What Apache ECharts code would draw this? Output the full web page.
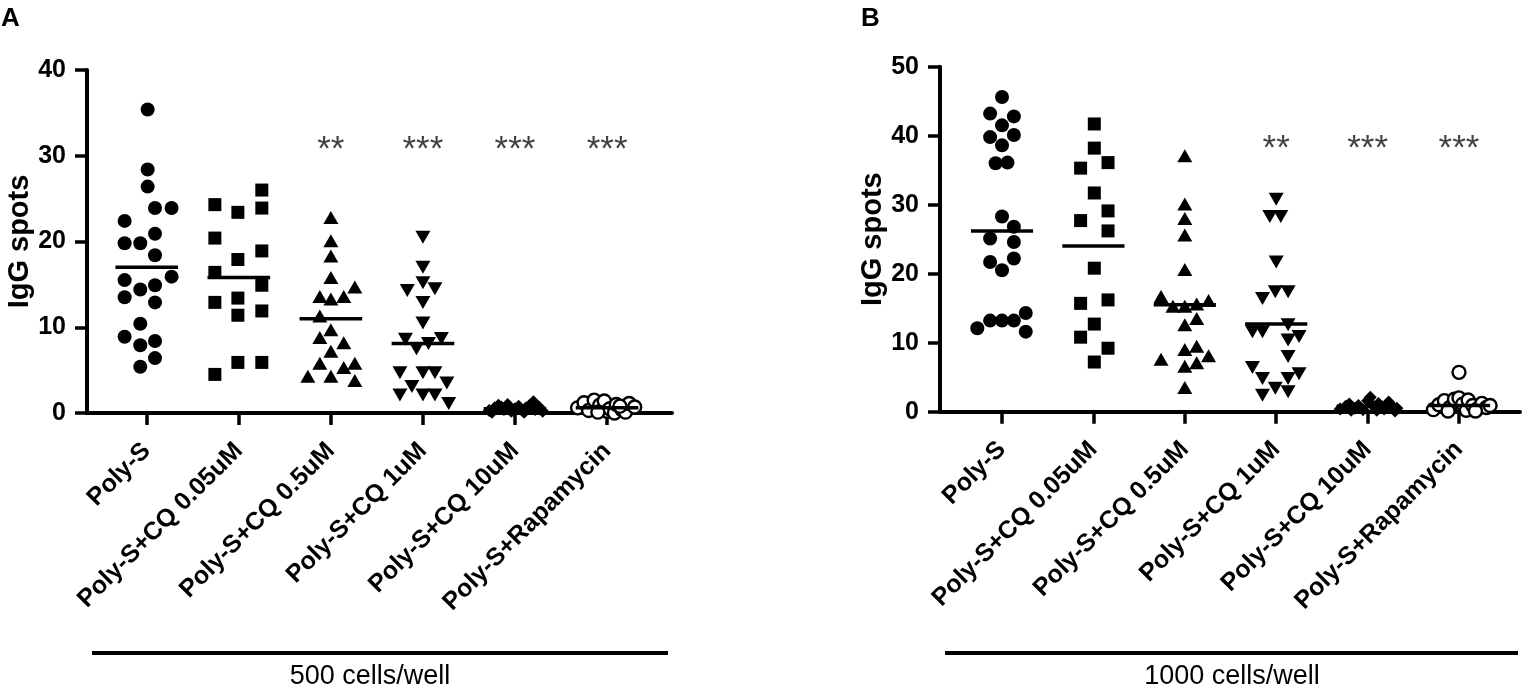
<!DOCTYPE html>
<html>
<head>
<meta charset="utf-8">
<script src="https://cdn.jsdelivr.net/npm/echarts@6/dist/echarts.min.js"></script>
<style>
  html, body { margin: 0; padding: 0; background: #fff; }
  #chart { width: 1535px; height: 694px; }
</style>
</head>
<body>
<div id="chart"></div>
<script>
// group names, same for both panels
var groups = ['Poly-S', 'Poly-S+CQ 0.05uM', 'Poly-S+CQ 0.5uM', 'Poly-S+CQ 1uM', 'Poly-S+CQ 10uM', 'Poly-S+Rapamycin'];

// panel A: 500 cells/well
var a1 = [35.4, 28.4, 26.4, 23.9, 23.9, 22.4, 20.9, 19.8, 19.8, 18.4, 15.9, 15.5, 14.4, 14.9, 13.5, 12.9, 10.4, 8.9, 7.9, 8.4, 6.4, 5.4];
var a2 = [24.3, 26.0, 23.4, 23.9, 20.4, 18.9, 17.9, 16.4, 14.9, 13.4, 12.9, 11.4, 11.9, 5.9, 5.9, 4.5];
var a3 = [22.8, 20.1, 18.3, 15.8, 14.7, 13.6, 13.3, 13.6, 11.3, 9.7, 8.8, 8.2, 7.2, 5.8, 5.3, 5.8, 4.3, 4.3, 3.8];
var a4 = [20.5, 17.0, 15.2, 14.3, 14.5, 12.9, 10.5, 8.6, 8.7, 7.5, 8.1, 4.7, 4.7, 4.7, 3.1, 3.5, 2.1, 2.1, 2.1, 1.1];
var a5 = [0.3, 0.6, 0.9, 0.4, 1.0, 0.2, 0.5, 0.8, 0.3, 0.6, 0.9, 1.3, 0.4, 0.7, 0.2, 0.1, 0.1, 0.7];
var a6 = [0.6, 1.2, 0.3, 1.5, 0.9, 1.4, 0.2, 0.5, 0.0, 1.0, 0.4, 0.1, 1.1, 0.7, 0.1, 0.8];
var meansA = [17.0, 15.8, 11.0, 8.1, 0.5, 0.6];
var starsA = ['', '', '**', '***', '***', '***'];

// panel B: 1000 cells/well
var b1 = [45.6, 43.2, 42.8, 41.5, 39.8, 40.1, 38.6, 36.0, 36.1, 28.3, 26.8, 25.1, 24.6, 22.2, 21.7, 20.5, 12.1, 13.2, 13.2, 13.2, 14.3, 11.6];
var b2 = [41.7, 38.2, 36.1, 35.3, 31.7, 29.1, 27.7, 26.2, 20.8, 15.7, 16.2, 12.7, 10.8, 9.2, 7.2];
var b3 = [37.1, 30.1, 28.0, 25.6, 20.6, 16.7, 16.1, 15.3, 15.3, 15.6, 13.5, 12.6, 9.0, 9.5, 8.1, 7.6, 6.6, 7.1, 3.5];
var b4 = [30.8, 28.3, 28.3, 21.7, 16.4, 17.4, 17.4, 11.6, 11.6, 12.6, 10.4, 10.9, 8.0, 6.4, 4.8, 4.8, 5.5, 2.4, 3.4, 2.9];
var b5 = [0.4, 0.8, 1.1, 0.5, 0.9, 0.3, 1.6, 2.1, 0.7, 1.2, 0.4, 1.4, 0.8, 0.5, 0.2, 0.2, 0.1];
var b6 = [5.7, 0.3, 1.0, 1.6, 0.6, 1.8, 2.0, 1.1, 0.2, 1.7, 0.9, 0.4, 1.2, 0.6, 0.9, 0.1, 0.1];
var meansB = [26.2, 24.0, 15.5, 12.7, 0.8, 0.9];
var starsB = ['', '', '', '**', '***', '***'];

// horizontal scatter of the points inside each column (fraction of a column)
var jitA1 = [0.01, 0.01, 0.01, 0.09, 0.27, -0.24, 0.09, -0.24, -0.07, 0.09, 0.27, -0.24, -0.07, 0.09, -0.24, 0.09, -0.07, -0.24, -0.07, 0.09, 0.09, -0.07];
var jitA2 = [-0.26, 0.25, -0.01, 0.25, -0.26, 0.25, -0.01, -0.26, 0.25, -0.01, -0.26, -0.01, 0.25, -0.01, 0.25, -0.26];
var jitA3 = [0, 0, 0, 0, 0.26, -0.12, 0, 0.14, -0.12, 0, -0.12, 0.14, 0, -0.12, 0.14, 0.26, -0.25, 0, 0.26];
var jitA4 = [0, 0, 0, -0.17, 0.13, 0, 0, -0.19, 0.2, -0.07, 0.06, -0.25, 0, 0.13, -0.12, 0.26, -0.25, 0, 0.13, 0.28];
var jitA5 = [-0.28, -0.22, -0.18, -0.12, -0.08, -0.04, 0, 0.04, 0.08, 0.12, 0.16, 0.2, 0.22, 0.26, 0.3, -0.25, 0.1, -0.15];
var jitA6 = [-0.32, -0.25, -0.2, -0.14, -0.08, -0.03, 0, 0.03, 0.08, 0.1, 0.16, 0.2, 0.24, 0.3, -0.1, 0.14];
var jitB1 = [0, -0.13, 0.13, 0, -0.13, 0.13, 0, -0.07, 0.06, 0, 0.13, -0.13, 0.13, 0.13, -0.13, 0, -0.27, -0.13, 0, 0.13, 0.26, 0.26];
var jitB2 = [0.01, 0.01, 0.16, -0.14, 0.01, 0.16, -0.14, 0.16, 0.01, -0.14, 0.16, 0.01, -0.14, 0.16, 0.01];
var jitB3 = [0, 0, 0, 0, 0, -0.26, 0.26, -0.13, 0, 0.13, 0.13, 0, 0, 0.13, 0.26, -0.26, 0, 0.13, 0];
var jitB4 = [0, -0.07, 0.05, 0, -0.15, -0.01, 0.13, -0.26, -0.15, 0.13, 0.13, 0.25, 0.13, -0.26, -0.15, 0.13, 0.25, -0.15, -0.01, 0.13];
var jitB5 = [-0.3, -0.24, -0.2, -0.14, -0.1, -0.05, 0, 0.03, 0.07, 0.12, 0.18, 0.23, 0.27, 0.32, -0.18, 0.1, 0.3];
var jitB6 = [0, -0.28, -0.22, -0.16, -0.1, -0.05, 0, 0.04, 0.08, 0.1, 0.15, 0.2, 0.25, 0.3, 0.34, -0.12, 0.18];

var FONT = 'Liberation Sans, Arial, sans-serif';

var markers = [
    { symbol: 'circle', size: 14, rotate: 0, open: false },
    { symbol: 'rect', size: 13, rotate: 0, open: false },
    { symbol: 'triangle', size: [15, 13], rotate: 0, open: false },
    { symbol: 'triangle', size: [15, 13], rotate: 180, open: false },
    { symbol: 'diamond', size: 13, rotate: 0, open: false },
    { symbol: 'circle', size: 13, rotate: 0, open: true }
];

var panels = [
    { vals: [a1, a2, a3, a4, a5, a6], jit: [jitA1, jitA2, jitA3, jitA4, jitA5, jitA6], means: meansA, stars: starsA, starY: 31.6, max: 40, nameGap: 45 },
    { vals: [b1, b2, b3, b4, b5, b6], jit: [jitB1, jitB2, jitB3, jitB4, jitB5, jitB6], means: meansB, stars: starsB, starY: 39.2, max: 50, nameGap: 40 }
];

// outer grid = axes frame, inner grid = the six columns
var grids = [
    { left: 87, top: 70, width: 585, height: 343 },
    { left: 100.7, top: 70, width: 552.4, height: 343 },
    { left: 940, top: 66.7, width: 580, height: 345 },
    { left: 956.3, top: 66.7, width: 548.4, height: 345 }
];

var xAxes = [], yAxes = [], series = [];

panels.forEach(function (p, pi) {
    var outer = pi * 2, inner = pi * 2 + 1;
    var xBase = pi * 3;

    // frame x axis: only the line
    xAxes.push({
        gridIndex: outer, type: 'value', min: 0, max: 1,
        axisLine: { show: true, lineStyle: { color: '#000', width: 4 } },
        axisTick: { show: false }, axisLabel: { show: false }, splitLine: { show: false }
    });
    // category axis: ticks and rotated labels
    xAxes.push({
        gridIndex: inner, type: 'category', data: groups, position: 'bottom',
        axisLine: { show: false },
        axisTick: { show: true, alignWithLabel: true, length: 12, lineStyle: { color: '#000', width: 3.5 } },
        axisLabel: { interval: 0, rotate: 45, margin: 34, color: '#000', fontFamily: FONT, fontWeight: 'bold', fontSize: 25 },
        splitLine: { show: false }
    });
    // hidden value axis used to place the points
    xAxes.push({
        gridIndex: inner, type: 'value', min: -0.5, max: 5.5, show: false, position: 'top'
    });

    yAxes.push({
        gridIndex: outer, type: 'value', min: 0, max: p.max, interval: 10,
        name: 'IgG spots', nameLocation: 'middle', nameGap: p.nameGap,
        nameTextStyle: { color: '#000', fontFamily: FONT, fontWeight: 'bold', fontSize: 29 },
        axisLine: { show: true, lineStyle: { color: '#000', width: 4 } },
        axisTick: { show: true, length: 12, lineStyle: { color: '#000', width: 3.5 } },
        axisLabel: { margin: 21, color: '#000', fontFamily: FONT, fontWeight: 'bold', fontSize: 25 },
        splitLine: { show: false }
    });
    yAxes.push({
        gridIndex: inner, type: 'value', min: 0, max: p.max, show: false
    });

    var yInner = pi * 2 + 1;

    p.vals.forEach(function (vals, gi) {
        var m = markers[gi];
        var jit = p.jit[gi];
        series.push({
            type: 'scatter',
            xAxisIndex: xBase + 2, yAxisIndex: yInner,
            symbol: m.symbol, symbolSize: m.size, symbolRotate: m.rotate,
            itemStyle: m.open
                ? { color: '#fff', borderColor: '#000', borderWidth: 2.4, opacity: 1 }
                : { color: '#000', opacity: 1 },
            emphasis: { disabled: true },
            z: 3,
            data: vals.map(function (v, k) { return [gi + jit[k], v]; })
        });
    });

    // mean bars
    series.push({
        type: 'custom',
        xAxisIndex: xBase + 2, yAxisIndex: yInner,
        z: 4,
        renderItem: function (params, api) {
            var i = api.value(0), v = api.value(1);
            var s = api.coord([i - 0.34, v]), e = api.coord([i + 0.34, v]);
            return {
                type: 'line',
                shape: { x1: s[0], y1: s[1], x2: e[0], y2: e[1] },
                style: { stroke: '#000', lineWidth: 3.5 }
            };
        },
        data: p.means.map(function (v, i) { return [i, v]; })
    });

    // significance stars
    var starData = [];
    p.stars.forEach(function (s, i) {
        if (s) starData.push({ name: s, value: [i, p.starY] });
    });
    series.push({
        type: 'scatter',
        xAxisIndex: xBase + 2, yAxisIndex: yInner,
        symbolSize: 1,
        itemStyle: { color: 'rgba(0,0,0,0)' },
        label: {
            show: true, position: 'inside', formatter: '{b}', offset: [0, 8],
            color: '#111', fontFamily: FONT, fontSize: 35
        },
        data: starData
    });
});

var myChart = echarts.init(document.getElementById('chart'));

var option = {
    animation: false,
    backgroundColor: '#fff',
    grid: grids,
    xAxis: xAxes,
    yAxis: yAxes,
    series: series,
    graphic: [
        { type: 'text', left: 1, top: 6, style: { text: 'A', fill: '#000', font: 'bold 26px ' + FONT } },
        { type: 'text', left: 861, top: 6, style: { text: 'B', fill: '#000', font: 'bold 26px ' + FONT } },
        { type: 'line', shape: { x1: 92, y1: 653, x2: 668, y2: 653 }, style: { stroke: '#000', lineWidth: 4 } },
        { type: 'line', shape: { x1: 945, y1: 653, x2: 1518, y2: 653 }, style: { stroke: '#000', lineWidth: 4 } },
        { type: 'text', x: 370, y: 677, style: { text: '500 cells/well', fill: '#000', font: '27px ' + FONT, textAlign: 'center', textVerticalAlign: 'middle' } },
        { type: 'text', x: 1232, y: 677, style: { text: '1000 cells/well', fill: '#000', font: '27px ' + FONT, textAlign: 'center', textVerticalAlign: 'middle' } }
    ]
};

myChart.setOption(option);
</script>
</body>
</html>
